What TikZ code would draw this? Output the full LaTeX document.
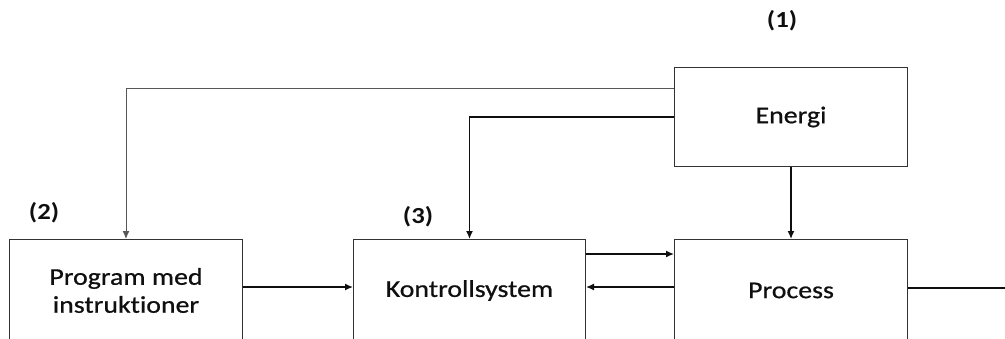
\documentclass[tikz,border=0pt]{standalone}
\usepackage{fontspec}
\setmainfont{Carlito}[FakeStretch=1.16, Ligatures=NoCommon]
\newfontfamily\boxfont{Carlito}[FakeStretch=1.16, FakeBold=0.7, Ligatures=NoCommon]
\usetikzlibrary{arrows.meta}
\definecolor{ink}{RGB}{15,15,15}
\tikzset{
  blk/.style={draw=ink!85, line width=1pt, minimum width=233pt, inner sep=0pt, anchor=north west, font=\boxfont\fontsize{24}{28}\selectfont, text=ink, align=center},
  lbl/.style={font=\fontsize{23}{27}\selectfont\bfseries, text=ink, inner sep=0pt},
  arr/.style={-{Latex[length=8pt,width=7pt]}, line width=1.4pt, draw=ink},
  thinarr/.style={-{Latex[length=8pt,width=7pt]}, line width=1pt, draw=ink!70},
  plain/.style={line width=1.4pt, draw=ink}
}
\begin{document}
\begin{tikzpicture}[x=1pt,y=-1pt]
\useasboundingbox (0,0) rectangle (1005,338);
\clip (0,0) rectangle (1005,338);
\node[blk, minimum height=99pt] (energi) at (674,67) {Energi};
\node[blk, minimum height=102pt] (prog) at (9,239) {Program med\\instruktioner};
\node[blk, minimum width=232pt, minimum height=102pt] (kon) at (353,239) {Kontrollsystem};
\node[blk, minimum height=102pt] (proc) at (674,239) {Process};
\node[lbl] (l1) at (782,21) {(1)};
\node[lbl] (l2) at (44,213) {(2)};
\node[lbl] (l3) at (418,217) {(3)};
\coordinate (c1) at (125,88);
\coordinate (c3) at (0,254);
\coordinate (c4) at (0,287);
\coordinate (out) at (1005,288);
\draw[thinarr] (energi.west |- c1) -| (prog.north);
\draw[arr] (energi.west) -| (kon.north);
\draw[arr] (energi.south) -- (proc.north);
\draw[arr] (kon.east |- c3) -- (proc.west |- c3);
\draw[arr] (proc.west |- c4) -- (kon.east |- c4);
\draw[arr] (prog.east |- c4) -- (kon.west |- c4);
\draw[plain] (proc.east |- out) -- (out);
\end{tikzpicture}
\end{document}
